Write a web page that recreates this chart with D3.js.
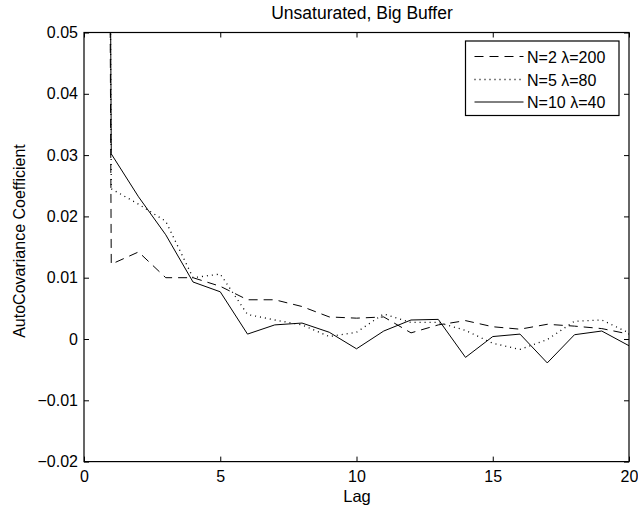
<!DOCTYPE html>
<html><head><meta charset="utf-8">
<script src="https://cdn.jsdelivr.net/npm/d3@7"></script>
<style>body{margin:0;background:#fff}text{font-family:"Liberation Sans",Arial,Helvetica,sans-serif}</style>
</head><body>
<script>
const lags = [0,1,2,3,4,5,6,7,8,9,10,11,12,13,14,15,16,17,18,19,20];
const seriesNames = ["N=2 \u03bb=200","N=5 \u03bb=80","N=10 \u03bb=40"];
const n2 = [1,0.0122,0.0142,0.0100,0.0100,0.0086,0.0064,0.0064,0.0053,0.0036,0.0034,0.0036,0.0010,0.0023,0.0030,0.0020,0.0016,0.0024,0.0021,0.0017,0.0008];
const n5 = [1,0.0245,0.0220,0.0192,0.0100,0.0106,0.0040,0.0031,0.0023,0.0004,0.0011,0.0041,0.0027,0.0027,0.0014,-0.0007,-0.0017,-0.0001,0.0029,0.0031,0.0010];
const n10 = [1,0.0302,0.0232,0.0170,0.0093,0.0077,0.0008,0.0023,0.0026,0.0011,-0.0016,0.0013,0.0031,0.0032,-0.0030,0.0004,0.0008,-0.0039,0.0007,0.0013,-0.0011];
const xTicks = [0,5,10,15,20];
const yTicks = [-0.02,-0.01,0,0.01,0.02,0.03,0.04,0.05];
const dashes = ["9,6","1,4",null];

const W=638,H=513;
const svg=d3.select("body").append("svg").attr("width",W).attr("height",H);
const L=84,R=629,T=32.5,B=461.6;
const x=d3.scaleLinear().domain([0,20]).range([L,R]);
const y=d3.scaleLinear().domain([-0.02,0.05]).range([B,T]);

svg.append("defs").append("clipPath").attr("id","c").append("rect")
  .attr("x",L).attr("y",T).attr("width",R-L).attr("height",B-T);

const line=d3.line().x((d,i)=>x(lags[i])).y(d=>y(d));
const data=[n2,n5,n10];
const g=svg.append("g").attr("clip-path","url(#c)");
data.forEach((s,k)=>{
  g.append("path").attr("d",line(s)).attr("fill","none").attr("stroke","#000")
   .attr("stroke-width",k===1?1.3:1).attr("stroke-dasharray",dashes[k]);
});

const fmtY=v=>v===0?"0":d3.format(".2f")(v);
const ax=svg.append("g").attr("transform",`translate(0,${B})`).call(d3.axisBottom(x).tickValues(xTicks).tickSize(-5).tickSizeOuter(0).tickPadding(9).tickFormat(d3.format("d")));
const axT=svg.append("g").attr("transform",`translate(0,${T})`).call(d3.axisTop(x).tickValues(xTicks).tickSize(-5).tickSizeOuter(0).tickFormat(""));
const ay=svg.append("g").attr("transform",`translate(${L},0)`).call(d3.axisLeft(y).tickValues(yTicks).tickSize(-5).tickSizeOuter(0).tickPadding(6).tickFormat(fmtY));
const ayR=svg.append("g").attr("transform",`translate(${R},0)`).call(d3.axisRight(y).tickValues(yTicks).tickSize(-5).tickSizeOuter(0).tickFormat(""));
[ax,axT,ay,ayR].forEach(a=>{
  a.selectAll(".domain").remove();
  a.selectAll("line").attr("stroke","#000");
  a.selectAll("text").attr("font-size",16).attr("fill","#000").attr("font-family","Liberation Sans,Arial,sans-serif");
});
svg.append("rect").attr("x",L).attr("y",T).attr("width",R-L).attr("height",B-T).attr("fill","none").attr("stroke","#000").attr("stroke-width",1.2);

svg.append("text").attr("x",362).attr("y",19).attr("text-anchor","middle").attr("font-size",17.5).text("Unsaturated, Big Buffer");
svg.append("text").attr("x",357).attr("y",502).attr("text-anchor","middle").attr("font-size",16.5).text("Lag");
svg.append("text").attr("transform",`translate(25,241) rotate(-90)`).attr("text-anchor","middle").attr("font-size",16).text("AutoCovariance Coefficient");

const lg=svg.append("g");
lg.append("rect").attr("x",465.5).attr("y",41).attr("width",153.5).attr("height",74.5).attr("fill","#fff").attr("stroke","#000").attr("stroke-width",1.2);
const ly=[56.5,79.5,102];
seriesNames.forEach((nm,k)=>{
  lg.append("line").attr("x1",474.5).attr("x2",523.5).attr("y1",ly[k]).attr("y2",ly[k]).attr("stroke","#000")
    .attr("stroke-width",k===1?1.3:1).attr("stroke-dasharray",dashes[k]);
  lg.append("text").attr("x",527).attr("y",ly[k]+6).attr("font-size",16).text(nm);
});
</script>
</body></html>
